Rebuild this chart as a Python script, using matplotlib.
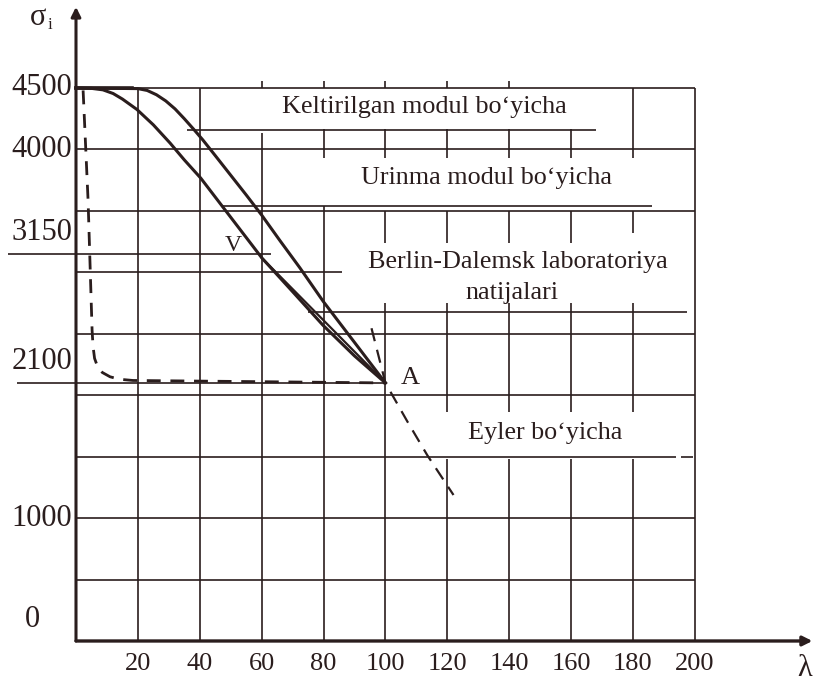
import matplotlib
matplotlib.use('Agg')
import matplotlib.pyplot as plt

INK = '#2a1d1d'
plt.rcParams['font.family'] = ['Liberation Serif', 'DejaVu Serif']

# axis ticks (lambda = slenderness, sigma = critical stress)
lam_ticks = [20, 40, 60, 80, 100, 120, 140, 160, 180, 200]
sigma_ticks = [4500, 4000, 3150, 2100, 1000, 0]
underlined = [3150, 2100]

# curves
kelt_lam = [0, 20, 23, 26, 29, 32, 35, 38, 41, 45, 50, 55, 60, 66, 72.4, 80, 90, 100]
kelt_sig = [4500, 4495, 4480, 4445, 4395, 4330, 4250, 4165, 4077, 3950, 3790, 3630,
            3466, 3255, 3035, 2760, 2430, 2100]

urin_lam = [0, 5, 8.7, 12, 15, 19.7, 25, 30.4, 35, 40.3, 50, 60.1, 70.1, 79.8, 90, 100]
urin_sig = [4500, 4497, 4485, 4455, 4410, 4325, 4200, 4052, 3915, 3767, 3448, 3116,
            2840, 2570, 2320, 2100]

berlin_lam = [60.1, 100]
berlin_sig = [3116, 2100]

dash_lam = [2.3, 3.9, 5.2, 5.5, 6, 7, 8.5, 11, 14, 18.4, 60, 100]
dash_sig = [4480, 3588, 2530, 2400, 2300, 2230, 2185, 2150, 2130, 2120, 2110, 2100]

euler_lam = [95.5, 100, 107, 113.5, 122]
euler_sig = [2545, 2100, 1790, 1513, 1188]

point_A = (100, 2100)

# grid pieces: (sigma, lam_from, lam_to) and (lam, sigma_from, sigma_to)
hlines = [(4500, 0, 200), (4160, 36, 168), (4000, 0, 200), (3540, 47, 186),
          (3500, 0, 200), (3150, -22, 63), (3000, 0, 86), (2680, 75, 197.5),
          (2500, 0, 200), (2100, -19, 100), (2000, 0, 200), (1500, 0, 194),
          (1500, 195.5, 199.3), (1000, 0, 200), (500, 0, 200)]
vlines = [(20, 0, 4500), (40, 0, 4500), (60, 0, 4130),
          (80, 3930, 4170), (80, 0, 3540),
          (100, 3930, 4170), (100, 3240, 3500), (100, 0, 2750)]
for l in [120, 140, 160]:
    vlines += [(l, 3930, 4170), (l, 3240, 3500), (l, 1860, 2750), (l, 0, 1480)]
vlines += [(180, 3930, 4500), (180, 3320, 3500), (180, 1860, 2750), (180, 0, 1480),
           (200, 0, 4500)]
for l in [60, 80, 100, 120, 140]:
    vlines.append((l, 4500, 4560))

fig = plt.figure(figsize=(8.18, 6.84), dpi=100)
ax = fig.add_axes([0, 0, 1, 1])
ax.set_xlim(-24.56, 239.8)
ax.set_ylim(-350, 5216)
ax.axis('off')

for s, a, b in hlines:
    ax.plot([a, b], [s, s], color=INK, lw=1.2, solid_capstyle='butt')
for l, a, b in vlines:
    ax.plot([l, l], [a, b], color=INK, lw=1.2, solid_capstyle='butt')

# axes with arrows
ax.annotate('', xy=(238, 0), xytext=(0, 0),
            arrowprops=dict(arrowstyle='-|>', color=INK, lw=2.4,
                            mutation_scale=14, shrinkA=0, shrinkB=0))
ax.annotate('', xy=(0, 5160), xytext=(0, 0),
            arrowprops=dict(arrowstyle='-|>', color=INK, lw=2.2,
                            mutation_scale=14, shrinkA=0, shrinkB=0))
ax.plot([0, 18], [4500, 4500], color=INK, lw=2.6)

ax.plot(kelt_lam, kelt_sig, color=INK, lw=2.2, solid_joinstyle='round')
ax.plot(urin_lam, urin_sig, color=INK, lw=2.2, solid_joinstyle='round')
ax.plot(berlin_lam, berlin_sig, color=INK, lw=1.6)
ax.plot(dash_lam, dash_sig, color=INK, lw=2.0, dashes=(5, 3.5))
ax.plot(euler_lam, euler_sig, color=INK, lw=1.6, dashes=(6, 4))

# tick labels
for v in lam_ticks:
    ax.text(v, -185, str(v), fontsize=19, color=INK, ha='center', va='center')
for v in sigma_ticks:
    if v == 0:
        ax.text(-14, 60, '0', fontsize=22, color=INK, ha='center', va='bottom')
    elif v in underlined:
        ax.text(-1.3, v + 60, str(v), fontsize=22, color=INK, ha='right', va='bottom')
    else:
        ax.text(-1.3, v, str(v), fontsize=22, color=INK, ha='right', va='center')

ax.text(-12.3, 5075, 'σ', fontsize=22, color=INK, ha='center', va='center')
ax.text(-9.2, 5010, 'i', fontsize=12, color=INK, ha='left', va='center')
ax.text(235.6, -225, 'λ', fontsize=22, color=INK, ha='center', va='center')

# curve labels
ax.text(112.5, 4345, 'Keltirilgan modul bo‘yicha', fontsize=18.8, color=INK, ha='center', va='center')
ax.text(132.8, 3767, 'Urinma modul bo‘yicha', fontsize=18.8, color=INK, ha='center', va='center')
ax.text(142.9, 3084, 'Berlin-Dalemsk laboratoriya', fontsize=18.8, color=INK, ha='center', va='center')
ax.text(140.9, 2832, 'natijalari', fontsize=18.8, color=INK, ha='center', va='center')
ax.text(151.6, 1692, 'Eyler bo‘yicha', fontsize=18.8, color=INK, ha='center', va='center')
ax.text(50.7, 3222, 'V', fontsize=17, color=INK, ha='center', va='center')
ax.text(point_A[0] + 8, point_A[1] + 40, 'A', fontsize=19, color=INK, ha='center', va='center')

fig.savefig('out.png', dpi=100, facecolor='white')
